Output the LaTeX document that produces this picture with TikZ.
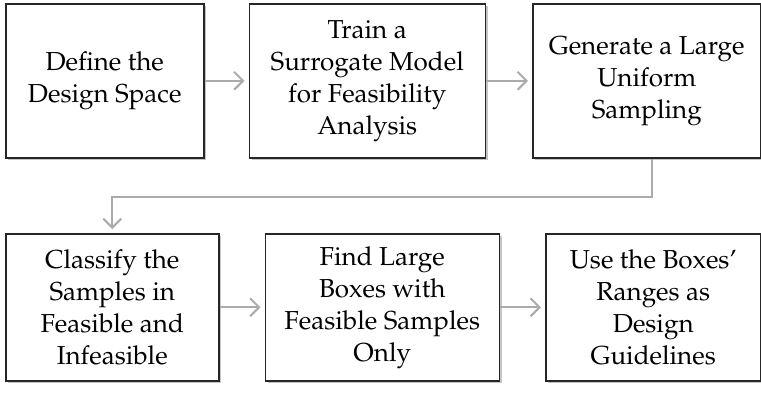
\documentclass[tikz,border=0pt]{standalone}
\usepackage[T1]{fontenc}
\usepackage{mathpazo}
\usepackage{tikz}
\usetikzlibrary{positioning,shadows,arrows.meta}
\tikzset{
  every node/.style={
    font=\fontsize{13}{16}\selectfont
  },
  process/.style n args={2}{
    shape=rectangle,
    minimum width=#1,
    minimum height=#2,
    align=center,
    inner sep=2pt,
    draw=black!85,
    line width=0.75pt,
    fill=white,
    drop shadow={shadow xshift=1.2pt,shadow yshift=-1.2pt,fill=black!45,opacity=0.5}
  },
  flow/.style={
    draw=black!33,
    line width=1pt,
    -{Straight Barb[length=4.5pt,width=9pt]},
    shorten >=2pt
  }
}

\begin{document}
\begin{tikzpicture}
    \useasboundingbox (0,0) rectangle (380.5pt,-196.5pt);
    % first row
    \node [process={99pt}{77pt}, anchor=north west] (define) at (2.5pt,-1.5pt) {
      Define the\\Design Space
    };
    \node [process={118pt}{77pt}, right=22pt of define] (train) {
      Train a\\Surrogate Model\\for Feasibility\\Analysis
    };
    \node [process={114pt}{77pt}, right=23pt of train] (generate) {
      Generate a Large\\Uniform\\Sampling
    };
    % second row
    \node [process={106.5pt}{73.5pt}, anchor=north west] (classify) at (2.5pt,-116.5pt) {
      Classify the\\Samples in\\Feasible and\\Infeasible
    };
    \node [process={117pt}{73.5pt}, right=22.5pt of classify] (find) {
      Find Large\\Boxes with\\Feasible Samples\\Only
    };
    \node [process={107.5pt}{73.5pt}, right=22.5pt of find] (use) {
      Use the Boxes'\\Ranges as\\Design\\Guidelines
    };
    \draw [flow] (define) -- (train);
    \draw [flow] (train) -- (generate);
    \draw [flow] ([xshift=2.5pt]generate.south) -- ++(0,-19pt) -| (classify.north);
    \draw [flow] (classify) -- (find);
    \draw [flow] (find) -- (use);
  \end{tikzpicture}
\end{document}
